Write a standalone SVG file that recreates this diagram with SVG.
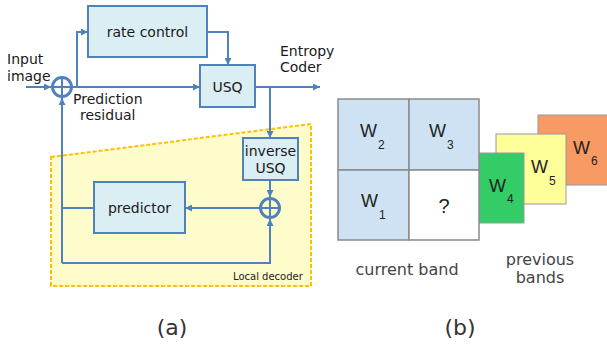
<svg xmlns="http://www.w3.org/2000/svg" width="607" height="344" viewBox="0 0 607 344">
<style>
.box{fill:#dbeef4;stroke:#4f81bd;stroke-width:2}
.ln{fill:none;stroke:#4f81bd;stroke-width:2}
.t{font-family:"DejaVu Sans",sans-serif;font-size:14px;fill:#1a1a1a}
.g{font-family:"DejaVu Sans",sans-serif;font-size:16px;fill:#444}
.w{font-family:"Liberation Sans",Arial,sans-serif;font-size:18px;fill:#222}
.s{font-family:"Liberation Sans",Arial,sans-serif;font-size:12px;fill:#222}
.cell{stroke:#8a8a8a;stroke-width:1.5}
</style>
<defs>
<marker id="ah" viewBox="0 0 10 10" refX="10" refY="5" markerWidth="7" markerHeight="7" markerUnits="userSpaceOnUse" orient="auto">
<path d="M0,0 L10,5 L0,10 z" fill="#4f81bd"/>
</marker>
</defs>
<rect width="607" height="344" fill="#fff"/>
<g id="local-decoder">
<polygon points="51,157 311,124 311,286 51,286" fill="#fffccc" stroke="#ffc000" stroke-width="2" stroke-dasharray="4 2"/>
<text x="233" y="280" style="font-family:'DejaVu Sans',sans-serif;font-size:10px;fill:#222">Local decoder</text>
</g>
<g id="connectors">
<line class="ln" x1="26" y1="87" x2="51" y2="87" marker-end="url(#ah)"/>
<line class="ln" x1="72" y1="87" x2="200" y2="87" marker-end="url(#ah)"/>
<polyline class="ln" points="77,87 77,32 88,32" marker-end="url(#ah)"/>
<polyline class="ln" points="207,32 228,32 228,65" marker-end="url(#ah)"/>
<line class="ln" x1="255" y1="87" x2="320" y2="87" marker-end="url(#ah)"/>
<line class="ln" x1="270" y1="87" x2="270" y2="138" marker-end="url(#ah)"/>
<line class="ln" x1="270" y1="180" x2="270" y2="197" marker-end="url(#ah)"/>
<line class="ln" x1="260" y1="208" x2="185" y2="208" marker-end="url(#ah)"/>
<line class="ln" x1="94" y1="208" x2="62" y2="208"/>
<line class="ln" x1="62" y1="263" x2="62" y2="98" marker-end="url(#ah)"/>
<polyline class="ln" points="62,263 270,263 270,219" marker-end="url(#ah)"/>
</g>
<g id="sum1">
<circle cx="62" cy="87" r="9.5" fill="none" stroke="#4f81bd" stroke-width="3"/>
<path d="M52.5,87 H71.5 M62,77.5 V96.5" stroke="#4f81bd" stroke-width="2"/>
</g>
<g id="sum2">
<circle cx="270" cy="208" r="9.5" fill="none" stroke="#4f81bd" stroke-width="3"/>
<path d="M260.5,208 H279.5 M270,198.5 V217.5" stroke="#4f81bd" stroke-width="2"/>
</g>
<g id="rate-control">
<rect class="box" x="88" y="6" width="119" height="51"/>
<text class="t" x="147.5" y="37" text-anchor="middle">rate control</text>
</g>
<g id="usq">
<rect class="box" x="200" y="65" width="55" height="42"/>
<text class="t" x="227.5" y="92" text-anchor="middle">USQ</text>
</g>
<g id="inverse-usq">
<rect class="box" x="243" y="138" width="55" height="42"/>
<text class="t" x="270.5" y="156" text-anchor="middle">inverse</text>
<text class="t" x="270.5" y="173" text-anchor="middle">USQ</text>
</g>
<g id="predictor">
<rect class="box" x="94" y="182" width="91" height="51"/>
<text class="t" x="139.5" y="213" text-anchor="middle">predictor</text>
</g>
<g id="labels-a">
<text class="t" x="7" y="64">Input</text>
<text class="t" x="7" y="81">image</text>
<text class="t" x="73" y="104">Prediction</text>
<text class="t" x="80" y="120">residual</text>
<text class="t" x="280" y="56">Entropy</text>
<text class="t" x="280" y="72">Coder</text>
<text x="172" y="335" text-anchor="middle" style="font-family:'DejaVu Sans',sans-serif;font-size:22px;fill:#333">(a)</text>
</g>
<g id="w6">
<rect x="538" y="115" width="75" height="70" fill="#f79a63" stroke="#9a9a9a" stroke-width="1"/>
<text class="w" x="573" y="154">W</text><text class="s" x="591" y="165">6</text>
</g>
<g id="w5">
<rect x="496" y="134" width="70" height="70" fill="#ffff99" stroke="#9a9a9a" stroke-width="1"/>
<text class="w" x="531" y="173">W</text><text class="s" x="549" y="185">5</text>
</g>
<g id="w4">
<rect x="479" y="153" width="45" height="70" fill="#33cc66" stroke="#9a9a9a" stroke-width="1"/>
<text class="w" x="489" y="192">W</text><text class="s" x="507" y="203">4</text>
</g>
<g id="current-band">
<rect class="cell" x="338" y="99" width="71" height="71" fill="#cfe2f3"/>
<rect class="cell" x="409" y="99" width="70" height="71" fill="#cfe2f3"/>
<rect class="cell" x="338" y="170" width="71" height="70" fill="#cfe2f3"/>
<rect class="cell" x="409" y="170" width="70" height="70" fill="#fff"/>
<text class="w" x="360" y="137">W</text><text class="s" x="378" y="149">2</text>
<text class="w" x="429" y="137">W</text><text class="s" x="447" y="149">3</text>
<text class="w" x="361" y="207">W</text><text class="s" x="379" y="219">1</text>
<text class="w" x="444" y="213" text-anchor="middle" style="font-size:20px">?</text>
</g>
<g id="labels-b">
<text class="g" x="407" y="275" text-anchor="middle">current band</text>
<text class="g" x="540" y="265" text-anchor="middle">previous</text>
<text class="g" x="540" y="283" text-anchor="middle">bands</text>
<text x="460" y="335" text-anchor="middle" style="font-family:'DejaVu Sans',sans-serif;font-size:22px;fill:#333">(b)</text>
</g>
</svg>
